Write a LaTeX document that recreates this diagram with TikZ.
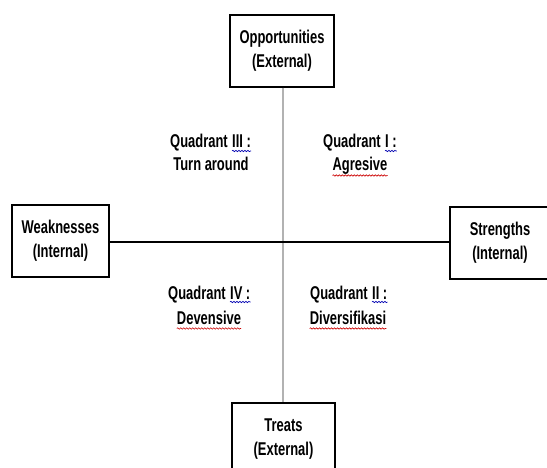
\documentclass[tikz,border=0pt]{standalone}
\usepackage{fontspec}
\setmainfont{Liberation Sans}[FakeStretch=0.70]
\usetikzlibrary{decorations.pathmorphing}
\tikzset{
  box/.style={draw=black, line width=1.1pt, minimum width=#1, minimum height=72pt, inner sep=0pt, align=center, font=\fontsize{18.5}{24}\selectfont\bfseries},
  lbl/.style={inner sep=0pt, font=\fontsize{18.5}{24}\selectfont\bfseries},
  axisv/.style={draw=black!30, line width=2pt},
  axish/.style={draw=black, line width=1.2pt},
  redwave/.style={draw=red!80!black, line width=0.6pt, decorate, decoration={snake, amplitude=0.7pt, segment length=3pt}},
  bluewave/.style={draw=blue!70!black, line width=0.6pt, decorate, decoration={snake, amplitude=0.7pt, segment length=3pt}}
}
\begin{document}
\begin{tikzpicture}[x=1pt,y=-1pt]
\useasboundingbox (0,0) rectangle (547,468);
\clip (0,0) rectangle (547,468);
\fill[white] (0,0) rectangle (547,468);
% boxes
\node[box=104pt] (opp) at (282,51) {Opportunities\\(External)};
\node[box=103pt] (tre) at (283.5,439) {Treats\\(External)};
\node[box=97pt] (wea) at (60.5,241) {Weaknesses\\(Internal)};
\node[box=100pt] (str) at (500,243) {Strengths\\(Internal)};
% axes
\coordinate (vt) at (opp.south -| 283,0);
\coordinate (vb) at (tre.north -| 283,0);
\draw[axisv] (vt) -- (vb);
\draw[axish] (wea.east |- 0,242) -- (str.west |- 0,242);
% Quadrant III
\node[lbl, anchor=base west] (q3a) at (170,148) {Quadrant};
\node[lbl, anchor=base west] (q3b) at ([xshift=4pt]q3a.base east) {III :};
\node[lbl, anchor=base] (q3c) at (211,171) {Turn around};
% Quadrant I
\node[lbl, anchor=base west] (q1a) at (323,148) {Quadrant};
\node[lbl, anchor=base west] (q1b) at ([xshift=4pt]q1a.base east) {I :};
\node[lbl, anchor=base] (q1c) at (360,171) {Agresive};
% Quadrant IV
\node[lbl, anchor=base west] (q4a) at (168,299) {Quadrant};
\node[lbl, anchor=base west] (q4b) at ([xshift=4pt]q4a.base east) {IV :};
\node[lbl, anchor=base] (q4c) at (209,324) {Devensive};
% Quadrant II
\node[lbl, anchor=base west] (q2a) at (310,299) {Quadrant};
\node[lbl, anchor=base west] (q2b) at ([xshift=4pt]q2a.base east) {II :};
\node[lbl, anchor=base] (q2c) at (348,324) {Diversifikasi};
% spell-check underlines
\foreach \n in {q3b,q1b,q4b,q2b}
  \draw[bluewave] ([yshift=-3pt]\n.base west) -- ([yshift=-3pt]\n.base east);
\foreach \n in {q1c,q4c,q2c}
  \draw[redwave] ([yshift=-4.5pt]\n.base west) -- ([yshift=-4.5pt]\n.base east);
\end{tikzpicture}
\end{document}
